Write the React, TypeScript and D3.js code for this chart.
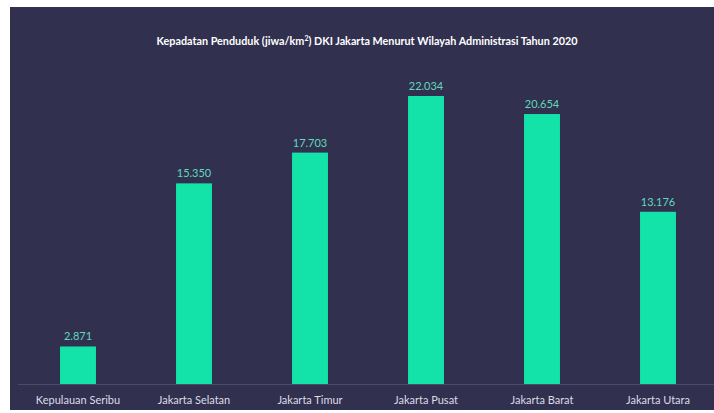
import React from "react";
import * as d3 from "d3";

const categories = ["Kepulauan Seribu", "Jakarta Selatan", "Jakarta Timur", "Jakarta Pusat", "Jakarta Barat", "Jakarta Utara"];
const values = [2871, 15350, 17703, 22034, 20654, 13176];
const valueLabels = ["2.871", "15.350", "17.703", "22.034", "20.654", "13.176"];

const W = 714, H = 413;
const FONT = "Lato, 'Open Sans', sans-serif";

export default function App() {
  const x = d3.scaleBand<string>().domain(categories).range([20, 716]).paddingInner(0.69).paddingOuter(0.345);
  const y = d3.scaleLinear().domain([0, 22034]).range([384, 96]);
  return (
    <svg width={W} height={H} style={{ position: "absolute", left: 0, top: 0 }}>
      <rect x={0} y={0} width={W} height={H} fill="#ffffff" />
      <rect x={10} y={7} width={W - 10} height={403} fill="#32304f" />
      <text x={367} y={45} textAnchor="middle" fill="#ffffff" fontFamily={FONT} fontSize={10.8} fontWeight={700}>
        Kepadatan Penduduk (jiwa/km<tspan dy={-4} fontSize={7}>2</tspan><tspan dy={4}>) DKI Jakarta Menurut Wilayah Administrasi Tahun 2020</tspan>
      </text>
      {categories.map((c, i) => (
        <g key={c}>
          <rect x={x(c)} y={y(values[i])} width={x.bandwidth()} height={y(0) - y(values[i])} fill="#13e2a9" />
          <text x={(x(c) as number) + x.bandwidth() / 2} y={y(values[i]) - 6} textAnchor="middle" fill="#5fd9bb" fontFamily={FONT} fontSize={11}>
            {valueLabels[i]}
          </text>
          <text x={(x(c) as number) + x.bandwidth() / 2} y={404} textAnchor="middle" fill="#dcdce6" fontFamily={FONT} fontSize={11}>
            {c}
          </text>
        </g>
      ))}
      <line x1={18} x2={W} y1={384.5} y2={384.5} stroke="#4c4b68" strokeWidth={1} />
    </svg>
  );
}
